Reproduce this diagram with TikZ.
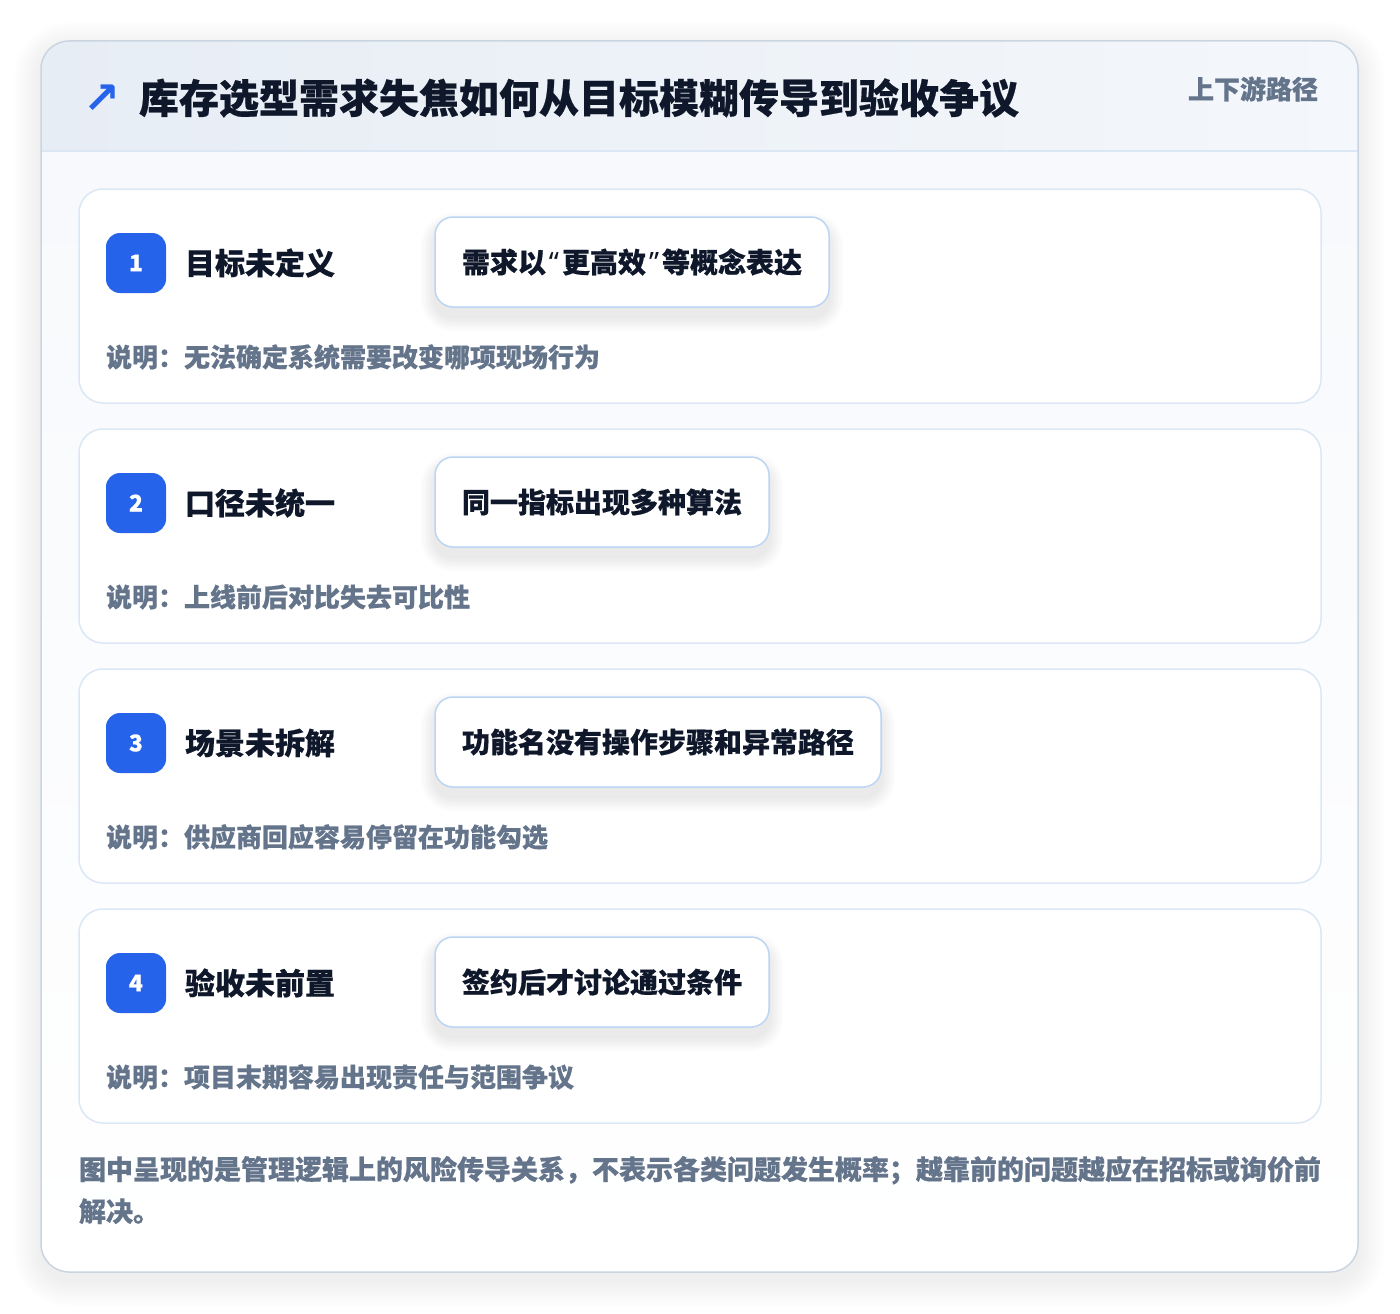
\documentclass[tikz,border=0pt]{standalone}
\usepackage{fontspec}
\setmainfont{Noto Sans CJK SC}[BoldFeatures={FakeBold=0.5}]
\newfontfamily\symfont{DejaVu Sans}
\newfontfamily\quotefont{Noto Sans}[BoldFeatures={FakeBold=0.5}]
\definecolor{ink}{HTML}{0F172A}
\definecolor{muted}{HTML}{64748B}
\definecolor{accent}{HTML}{2563EB}
\definecolor{panelborder}{HTML}{DCE7F6}
\definecolor{chipborder}{HTML}{BCD5F3}
\definecolor{cardborder}{HTML}{CBD5E1}
\definecolor{headL}{HTML}{E7EDF5}
\definecolor{headR}{HTML}{F4F7FB}
\definecolor{headline}{HTML}{DBE7F5}
\definecolor{cardbody}{HTML}{F7F9FC}
\begin{document}
\begin{tikzpicture}[x=1pt,y=-1pt,
  every node/.style={inner sep=0pt, outer sep=0pt},
  panel/.style={draw=panelborder, line width=1.5pt, fill=white, rounded corners=24pt},
  badge/.style={fill=accent, rounded corners=14pt, minimum width=60pt, minimum height=60pt, text=white, font=\fontsize{23}{26}\selectfont\bfseries},
  steptitle/.style={anchor=west, text=ink, font=\fontsize{30}{36}\selectfont\bfseries},
  chip/.style={draw=chipborder, line width=1.5pt, fill=white, rounded corners=18pt, anchor=west, minimum height=90pt, text=ink, font=\fontsize{28}{32}\selectfont\bfseries},
  note/.style={anchor=west, text=muted, font=\fontsize{26}{30}\selectfont\bfseries}
]
\fill[white] (0,0) rectangle (1400,1314);
\useasboundingbox (0,0) rectangle (1400,1314);
% card shadow
\foreach \i in {1,...,16}{
  \fill[black, opacity=0.005, rounded corners={28+\i*1.7}] ({41-\i*1.7},{41-\i*1.7+8}) rectangle ({1358+\i*1.7},{1272+\i*1.7+8});
}
% card
\fill[white, rounded corners=28pt] (41,41) rectangle (1358,1272);
\begin{scope}
  \clip[rounded corners=28pt] (41,41) rectangle (1358,1272);
  \shade[top color=cardbody, bottom color=white] (41,151) rectangle (1358,1272);
  \shade[left color=headL, right color=headR] (41,41) rectangle (1358,151);
\end{scope}
\draw[headline, line width=1.5pt] (41,151) -- (1358,151);
\draw[cardborder, line width=1.5pt, rounded corners=28pt] (41,41) rectangle (1358,1272);
% header
\node[anchor=center, text=accent, font=\symfont\fontsize{44}{48}\selectfont\bfseries] (arrow) at (102,99) {↗};
\node[anchor=west, text=ink, font=\fontsize{40}{46}\selectfont\bfseries] (title) at (139,98) {库存选型需求失焦如何从目标模糊传导到验收争议};
\node[anchor=east, text=muted, font=\fontsize{26}{30}\selectfont\bfseries] (tag) at (1318,89) {上下游路径};
% panels
\foreach \k/\num/\ttl/\chipw/\chiptxt/\notetxt in {
  0/1/目标未定义/394/需求以\hspace{3pt}{\quotefont“}\hspace{3pt}更高效\hspace{3pt}{\quotefont”}\hspace{3pt}等概念表达/说明：无法确定系统需要改变哪项现场行为,
  1/2/口径未统一/334/同一指标出现多种算法/说明：上线前后对比失去可比性,
  2/3/场景未拆解/446/功能名没有操作步骤和异常路径/说明：供应商回应容易停留在功能勾选,
  3/4/验收未前置/334/签约后才讨论通过条件/说明：项目末期容易出现责任与范围争议}{
  \pgfmathsetmacro{\yo}{189+240*\k}
  \draw[panel] (79,\yo) rectangle (1321,\yo+214);
  \node[badge] (badge\num) at (136,\yo+74) {\num};
  \node[steptitle] (stitle\num) at (185,\yo+74) {\ttl};
  \foreach \s in {1,...,7}{
    \fill[black, opacity=0.011, rounded corners={18+\s*2}] ({435-\s*2},{\yo+28-\s*2+10}) rectangle ({435+\chipw+\s*2},{\yo+118+\s*2+10});
  }
  \node[chip, minimum width=\chipw pt] (chip\num) at (435,\yo+73) {\chiptxt};
  \node[note] (note\num) at (106,\yo+168) {\notetxt};
}
% footer
\node[anchor=north west, align=left, text=muted, font=\fontsize{27}{42}\selectfont\bfseries] (footer) at (79,1156) {图中呈现的是管理逻辑上的风险传导关系，不表示各类问题发生概率；越靠前的问题越应在招标或询价前\\解决。};
\end{tikzpicture}
\end{document}
